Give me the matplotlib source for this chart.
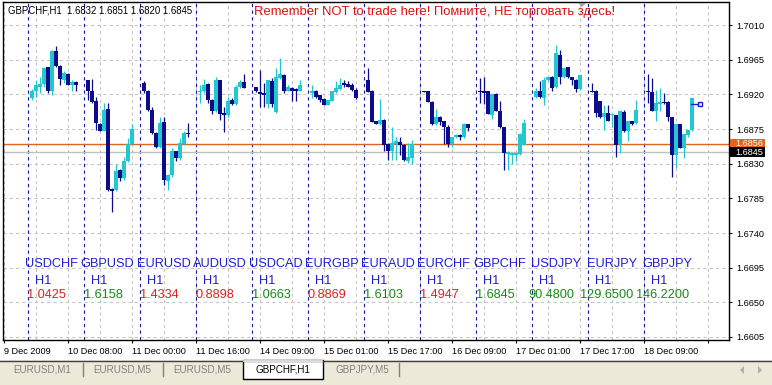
import matplotlib
matplotlib.use("Agg")
import matplotlib.pyplot as plt
from matplotlib.patches import Rectangle, Polygon
from matplotlib.transforms import blended_transform_factory

W, H = 772, 385

# indicator block: one column per symbol
symbols = ["USDCHF", "GBPUSD", "EURUSD", "AUDUSD", "USDCAD", "EURGBP",
           "EURAUD", "EURCHF", "GBPCHF", "USDJPY", "EURJPY", "GBPJPY"]
timeframes = ["H1"] * 12
last_prices = ["1.0425", "1.6158", "1.4334", "0.8898", "1.0663", "0.8869",
               "1.6103", "1.4947", "1.6845", "90.4800", "129.6500", "146.2200"]
price_rose = [False, True, False, False, True, False,
              True, False, True, True, True, True]

# H1 candles, 12 per column
opens = [
    1.6915, 1.6924, 1.6930, 1.6933, 1.6955, 1.6924, 1.6976, 1.6957, 1.6939, 1.6946, 1.6932, 1.6936,
    1.6938, 1.6924, 1.6911, 1.6881, 1.6873, 1.6901, 1.6797, 1.6796, 1.6822, 1.6811, 1.6833, 1.6855,
    1.6935, 1.6924, 1.6900, 1.6870, 1.6852, 1.6884, 1.6808, 1.6815, 1.6846, 1.6838, 1.6855, 1.6870,
    1.6923, 1.6924, 1.6933, 1.6913, 1.6899, 1.6938, 1.6896, 1.6893, 1.6913, 1.6907, 1.6929, 1.6936,
    1.6929, 1.6923, 1.6922, 1.6907, 1.6937, 1.6897, 1.6941, 1.6945, 1.6925, 1.6928, 1.6927, 1.6925,
    1.6922, 1.6925, 1.6919, 1.6914, 1.6906, 1.6912, 1.6923, 1.6927, 1.6935, 1.6933, 1.6932, 1.6926,
    1.6938, 1.6925, 1.6885, 1.6881, 1.6887, 1.6855, 1.6847, 1.6855, 1.6858, 1.6854, 1.6834, 1.6838,
    1.6924, 1.6924, 1.6910, 1.6881, 1.6891, 1.6885, 1.6878, 1.6855, 1.6864, 1.6867, 1.6864, 1.6881,
    1.6925, 1.6924, 1.6924, 1.6893, 1.6920, 1.6899, 1.6877, 1.6842, 1.6841, 1.6841, 1.6842, 1.6854,
    1.6916, 1.6924, 1.6915, 1.6938, 1.6943, 1.6929, 1.6971, 1.6942, 1.6955, 1.6942, 1.6939, 1.6927,
    1.6925, 1.6924, 1.6911, 1.6891, 1.6896, 1.6893, 1.6893, 1.6855, 1.6897, 1.6873, 1.6886, 1.6883,
    1.6925, 1.6923, 1.6899, 1.6907, 1.6910, 1.6910, 1.6890, 1.6841, 1.6881, 1.6851, 1.6867, 1.6874,
]
highs = [
    1.6927, 1.6938, 1.6943, 1.6955, 1.6956, 1.6977, 1.6983, 1.6958, 1.6950, 1.6948, 1.6938, 1.6937,
    1.6938, 1.6940, 1.6917, 1.6883, 1.6909, 1.6909, 1.6798, 1.6829, 1.6823, 1.6839, 1.6863, 1.6882,
    1.6937, 1.6926, 1.6904, 1.6871, 1.6890, 1.6891, 1.6816, 1.6850, 1.6847, 1.6863, 1.6872, 1.6883,
    1.6932, 1.6940, 1.6935, 1.6914, 1.6942, 1.6939, 1.6904, 1.6916, 1.6915, 1.6932, 1.6938, 1.6946,
    1.6930, 1.6951, 1.6935, 1.6939, 1.6941, 1.6954, 1.6967, 1.6946, 1.6932, 1.6929, 1.6928, 1.6939,
    1.6932, 1.6926, 1.6919, 1.6915, 1.6913, 1.6925, 1.6937, 1.6941, 1.6938, 1.6937, 1.6935, 1.6928,
    1.6954, 1.6926, 1.6886, 1.6914, 1.6888, 1.6857, 1.6877, 1.6865, 1.6865, 1.6855, 1.6857, 1.6861,
    1.6925, 1.6925, 1.6911, 1.6901, 1.6892, 1.6886, 1.6880, 1.6865, 1.6868, 1.6868, 1.6883, 1.6882,
    1.6941, 1.6942, 1.6925, 1.6920, 1.6922, 1.6911, 1.6878, 1.6846, 1.6844, 1.6844, 1.6870, 1.6888,
    1.6928, 1.6937, 1.6942, 1.6942, 1.6944, 1.6984, 1.6977, 1.6956, 1.6956, 1.6943, 1.6940, 1.6945,
    1.6935, 1.6926, 1.6912, 1.6906, 1.6906, 1.6895, 1.6893, 1.6900, 1.6900, 1.6886, 1.6886, 1.6913,
    1.6946, 1.6941, 1.6926, 1.6928, 1.6922, 1.6911, 1.6891, 1.6881, 1.6882, 1.6868, 1.6874, 1.6916,
]
lows = [
    1.6913, 1.6917, 1.6922, 1.6930, 1.6922, 1.6919, 1.6956, 1.6932, 1.6935, 1.6932, 1.6924, 1.6924,
    1.6913, 1.6909, 1.6874, 1.6872, 1.6872, 1.6795, 1.6767, 1.6795, 1.6808, 1.6809, 1.6832, 1.6854,
    1.6922, 1.6899, 1.6868, 1.6850, 1.6851, 1.6802, 1.6796, 1.6813, 1.6833, 1.6835, 1.6854, 1.6865,
    1.6909, 1.6922, 1.6909, 1.6894, 1.6897, 1.6887, 1.6871, 1.6891, 1.6906, 1.6906, 1.6928, 1.6928,
    1.6923, 1.6903, 1.6904, 1.6902, 1.6903, 1.6896, 1.6940, 1.6922, 1.6924, 1.6911, 1.6911, 1.6924,
    1.6915, 1.6915, 1.6910, 1.6906, 1.6906, 1.6911, 1.6922, 1.6926, 1.6930, 1.6929, 1.6925, 1.6914,
    1.6923, 1.6884, 1.6881, 1.6880, 1.6847, 1.6835, 1.6835, 1.6835, 1.6841, 1.6833, 1.6831, 1.6829,
    1.6923, 1.6910, 1.6880, 1.6880, 1.6880, 1.6855, 1.6852, 1.6852, 1.6863, 1.6861, 1.6863, 1.6873,
    1.6909, 1.6907, 1.6894, 1.6888, 1.6898, 1.6876, 1.6822, 1.6822, 1.6829, 1.6833, 1.6841, 1.6854,
    1.6915, 1.6915, 1.6906, 1.6937, 1.6924, 1.6928, 1.6933, 1.6941, 1.6941, 1.6932, 1.6923, 1.6926,
    1.6923, 1.6891, 1.6889, 1.6874, 1.6885, 1.6877, 1.6839, 1.6844, 1.6871, 1.6860, 1.6880, 1.6881,
    1.6909, 1.6898, 1.6886, 1.6898, 1.6907, 1.6885, 1.6813, 1.6825, 1.6850, 1.6838, 1.6865, 1.6873,
]
closes = [
    1.6925, 1.6932, 1.6933, 1.6954, 1.6925, 1.6976, 1.6957, 1.6940, 1.6948, 1.6932, 1.6936, 1.6932,
    1.6924, 1.6910, 1.6883, 1.6873, 1.6900, 1.6796, 1.6795, 1.6820, 1.6811, 1.6833, 1.6855, 1.6875,
    1.6924, 1.6900, 1.6870, 1.6852, 1.6883, 1.6809, 1.6815, 1.6846, 1.6838, 1.6857, 1.6870, 1.6868,
    1.6925, 1.6932, 1.6913, 1.6899, 1.6939, 1.6894, 1.6893, 1.6912, 1.6907, 1.6930, 1.6936, 1.6928,
    1.6924, 1.6920, 1.6919, 1.6938, 1.6907, 1.6942, 1.6946, 1.6925, 1.6930, 1.6925, 1.6925, 1.6932,
    1.6925, 1.6916, 1.6913, 1.6906, 1.6913, 1.6924, 1.6928, 1.6932, 1.6932, 1.6930, 1.6926, 1.6915,
    1.6923, 1.6884, 1.6882, 1.6887, 1.6854, 1.6847, 1.6857, 1.6860, 1.6854, 1.6835, 1.6839, 1.6855,
    1.6923, 1.6910, 1.6881, 1.6891, 1.6884, 1.6878, 1.6855, 1.6864, 1.6867, 1.6864, 1.6881, 1.6876,
    1.6923, 1.6922, 1.6894, 1.6920, 1.6899, 1.6877, 1.6844, 1.6845, 1.6844, 1.6844, 1.6868, 1.6883,
    1.6925, 1.6916, 1.6938, 1.6942, 1.6928, 1.6974, 1.6943, 1.6954, 1.6942, 1.6939, 1.6927, 1.6945,
    1.6923, 1.6896, 1.6891, 1.6896, 1.6886, 1.6894, 1.6854, 1.6899, 1.6873, 1.6886, 1.6881, 1.6900,
    1.6923, 1.6899, 1.6909, 1.6910, 1.6909, 1.6890, 1.6841, 1.6881, 1.6851, 1.6868, 1.6874, 1.6915,
]

price_ticks = [1.7010, 1.6965, 1.6920, 1.6875, 1.6830, 1.6785, 1.6740, 1.6695, 1.6650, 1.6605]
time_labels = ["9 Dec 2009", "10 Dec 08:00", "11 Dec 00:00", "11 Dec 16:00", "14 Dec 09:00",
               "15 Dec 01:00", "15 Dec 17:00", "16 Dec 09:00", "17 Dec 01:00", "17 Dec 17:00",
               "18 Dec 09:00", ""]
tab_names = ["EURUSD,M1", "EURUSD,M5", "EURUSD,M5", "GBPCHF,H1", "GBPJPY,M5"]
active_tab = 3

hline_price = 1.6856
bid_price = 1.6845
arrow_price = 1.6907
header = "GBPCHF,H1  1.6832 1.6851 1.6820 1.6845"
warning = "Remember NOT to trade here! Помните, НЕ торговать здесь!"

BULL = "#22C8D0"
BEAR = "#0C0C8A"
SEP_BLUE = "#1818A8"
GRID = "#C4C4C4"
ORANGE = "#E2621E"
TXT_BLUE = "#2020CC"
TXT_RED = "#E02020"
TXT_GREEN = "#168A16"
PANEL = "#ECE9D8"

plt.rcParams["font.family"] = ["Liberation Sans", "DejaVu Sans"]


def fx(px):
    return px / W


def fy(py):
    return 1 - py / H


fig = plt.figure(figsize=(W / 100, H / 100), dpi=100)
fig.patch.set_facecolor("white")
ax = fig.add_axes([fx(3), fy(340), fx(729) - fx(3), fy(2) - fy(340)])
y_lo, y_hi = 1.66011, 1.70399
ax.set_xlim(-6.25, 175.25)
ax.set_ylim(y_lo, y_hi)
per_px = (y_hi - y_lo) / 338

# grid (grey dashed) and column separators (blue dashed)
for p in price_ticks:
    ax.axhline(p, color=GRID, lw=0.75, dashes=(3, 3), zorder=0)
for s in range(-6, 176, 8):
    ax.axvline(s, color=GRID, lw=0.75, dashes=(3, 3), zorder=0)
for k in range(len(symbols)):
    ax.axvline(14 * k, color=SEP_BLUE, lw=0.8, dashes=(3, 3), zorder=1)

# horizontal line + bid line
ax.axhline(hline_price, color=ORANGE, lw=1.0, zorder=1)
ax.axhline(bid_price, color="#C0C0C0", lw=1.0, zorder=1)

# candles
xs = [14 * (i // 12) + 1 + i % 12 for i in range(len(opens))]
cols = [BULL if c >= o else BEAR for o, c in zip(opens, closes)]
ax.vlines(xs, lows, highs, colors=cols, lw=0.9, zorder=3)
bottoms = [min(o, c) for o, c in zip(opens, closes)]
heights = [max(abs(c - o), per_px) for o, c in zip(opens, closes)]
ax.bar(xs, heights, width=0.78, bottom=bottoms, color=cols, linewidth=0, zorder=4)

# little arrow at the last bar
ax.plot([xs[-1] - 0.2, xs[-1] + 1.4], [arrow_price, arrow_price], color="#1A1AD0", lw=1.0, zorder=5)
ax.plot([xs[-1] + 1.9], [arrow_price], marker="s", ms=3.2, mfc="white", mec="#1A1AD0", mew=1.0, zorder=5)

# indicator texts
y_sym = y_hi - 262 * per_px
y_tf = y_hi - 278.5 * per_px
y_val = y_hi - 293 * per_px
for k, (sym, tf, val, up) in enumerate(zip(symbols, timeframes, last_prices, price_rose)):
    ax.text(14 * k + 5.9, y_sym, sym, color=TXT_BLUE, fontsize=9.2, ha="center", va="center", zorder=6)
    ax.text(14 * k + 3.75, y_tf, tf, color=TXT_BLUE, fontsize=9.2, ha="center", va="center", zorder=6)
    ax.text(14 * k + 4.75, y_val, val, color=TXT_GREEN if up else TXT_RED,
            fontsize=9.2, ha="center", va="center", zorder=6)

# axes look
for sp in ax.spines.values():
    sp.set_color("black")
    sp.set_linewidth(1.0)
ax.yaxis.tick_right()
ax.set_yticks(price_ticks)
ax.set_yticklabels([f"{p:.4f}" for p in price_ticks])
ax.tick_params(axis="y", direction="out", length=2.5, width=0.8, pad=2.5, labelsize=6.6)
ax.set_xticks(list(range(-6, 176, 16)))
ax.set_xticklabels(time_labels, ha="left")
ax.tick_params(axis="x", direction="out", length=2.5, width=0.8, pad=2.5, labelsize=6.6)

# price boxes on the right scale
bt = blended_transform_factory(fig.transFigure, ax.transData)
for price, face in [(hline_price, ORANGE), (bid_price, "black")]:
    fig.add_artist(Rectangle((fx(730), price - 4.8 * per_px), fx(765) - fx(730), 9.6 * per_px,
                             transform=bt, facecolor=face, edgecolor="none", zorder=5))
    fig.text(fx(735), price, f"{price:.4f}", transform=bt, color="white", fontsize=6.6,
             va="center", ha="left", zorder=6)

# header texts
fig.text(fx(8), fy(10.5), header, fontsize=6.9, color="black", va="center", ha="left")
fig.text(fx(254), fy(12.5), warning, fontsize=9.4, color="#DD1111", va="center", ha="left")
fig.add_artist(Polygon([(fx(578), fy(3)), (fx(586), fy(3)), (fx(582), fy(7))],
                       closed=True, facecolor="#A0A0A0", edgecolor="none", transform=fig.transFigure))

# tab bar at the bottom
fig.add_artist(Rectangle((0, 0), 1, fy(360), transform=fig.transFigure,
                         facecolor=PANEL, edgecolor="none"))
fig.add_artist(plt.Line2D([0, 1], [fy(360.5), fy(360.5)], transform=fig.transFigure,
                          color="#404040", lw=1.0))
tab_centers = [42, 122, 202, 283, 362]
tab_seps = [83, 163, 399]
fig.add_artist(Rectangle((fx(243), fy(379)), fx(323) - fx(243), fy(360) - fy(379),
                         transform=fig.transFigure, facecolor="white", edgecolor="black", lw=1.0))
fig.add_artist(plt.Line2D([fx(244), fx(322)], [fy(360.5), fy(360.5)], transform=fig.transFigure,
                          color="white", lw=1.2))
for i, (name, cx) in enumerate(zip(tab_names, tab_centers)):
    fig.text(fx(cx), fy(369.5), name, fontsize=7.1, ha="center", va="center",
             color="black" if i == active_tab else "#808080")
for sx in tab_seps:
    fig.add_artist(plt.Line2D([fx(sx), fx(sx)], [fy(363), fy(376)], transform=fig.transFigure,
                              color="#808080", lw=1.0))
for cx, d in [(742, -1), (760, 1)]:
    fig.add_artist(Polygon([(fx(cx - 2 * d), fy(366)), (fx(cx - 2 * d), fy(374)), (fx(cx + 2 * d), fy(370))],
                           closed=True, facecolor="#B0B0B0", edgecolor="none", transform=fig.transFigure))

fig.savefig("out.png", dpi=100)
